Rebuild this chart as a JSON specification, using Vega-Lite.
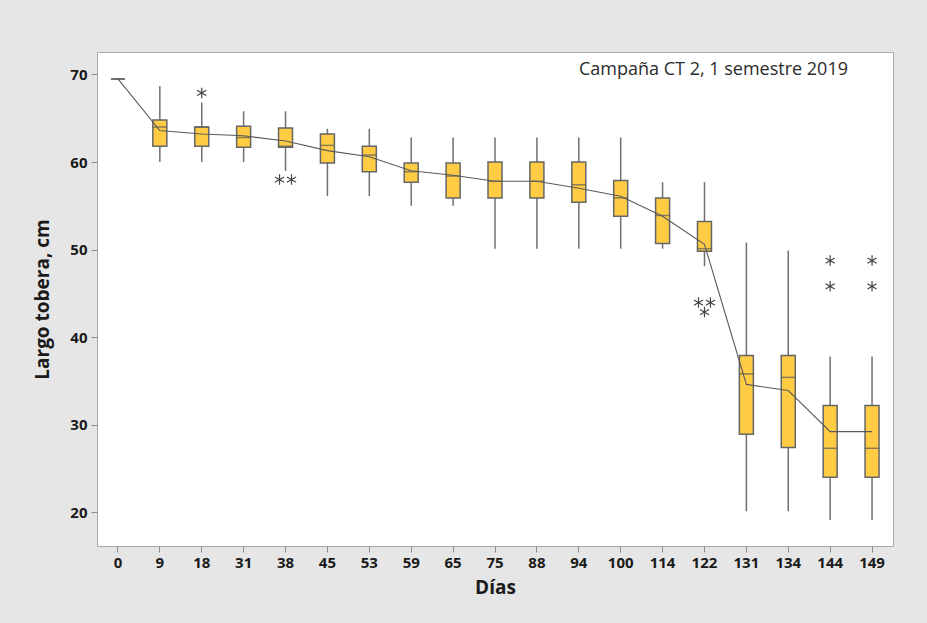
{
  "$schema": "https://vega.github.io/schema/vega-lite/v6.json",
  "width": 796,
  "height": 494,
  "autosize": {"type": "none"},
  "padding": {"left": 97, "top": 52, "right": 34, "bottom": 77},
  "background": "#e6e6e6",
  "title": {
    "text": "Campaña CT 2, 1 semestre 2019",
    "orient": "top",
    "anchor": "end",
    "frame": "group",
    "offset": 0,
    "baseline": "alphabetic",
    "dy": 41,
    "dx": -45,
    "font": "Open Sans",
    "fontSize": 18,
    "fontWeight": "normal",
    "color": "#2b2b2b"
  },
  "config": {
    "view": {"fill": "white", "stroke": "#a9a9a9", "strokeWidth": 1},
    "axis": {
      "labelFont": "Open Sans",
      "labelFontSize": 15,
      "labelFontWeight": "bold",
      "labelColor": "#1a1a1a",
      "titleFont": "Open Sans",
      "titleFontSize": 19,
      "titleFontWeight": "bold",
      "titleColor": "#1a1a1a",
      "tickColor": "#8a8a8a",
      "tickSize": 6,
      "domain": false,
      "grid": false
    }
  },
  "datasets": {
    "stats": [
      {"dia": 0, "lo": 69.5, "q1": 69.5, "med": 69.5, "q3": 69.5, "hi": 69.5, "media": 69.5},
      {"dia": 9, "lo": 60.0, "q1": 61.8, "med": 64.0, "q3": 64.8, "hi": 68.7, "media": 63.6},
      {"dia": 18, "lo": 60.0, "q1": 61.8, "med": 64.0, "q3": 64.0, "hi": 66.8, "media": 63.2},
      {"dia": 31, "lo": 60.0, "q1": 61.7, "med": 62.8, "q3": 64.1, "hi": 65.8, "media": 63.0},
      {"dia": 38, "lo": 59.0, "q1": 61.7, "med": 61.8, "q3": 63.9, "hi": 65.8, "media": 62.4},
      {"dia": 45, "lo": 56.1, "q1": 59.9, "med": 61.9, "q3": 63.2, "hi": 63.8, "media": 61.3},
      {"dia": 53, "lo": 56.1, "q1": 58.9, "med": 60.8, "q3": 61.8, "hi": 63.8, "media": 60.6},
      {"dia": 59, "lo": 55.0, "q1": 57.7, "med": 58.9, "q3": 59.9, "hi": 62.8, "media": 59.0},
      {"dia": 65, "lo": 55.0, "q1": 55.9, "med": 58.4, "q3": 59.9, "hi": 62.8, "media": 58.5},
      {"dia": 75, "lo": 50.1, "q1": 55.9, "med": 57.8, "q3": 60.0, "hi": 62.8, "media": 57.8},
      {"dia": 88, "lo": 50.1, "q1": 55.9, "med": 57.8, "q3": 60.0, "hi": 62.8, "media": 57.8},
      {"dia": 94, "lo": 50.1, "q1": 55.4, "med": 57.4, "q3": 60.0, "hi": 62.8, "media": 57.0},
      {"dia": 100, "lo": 50.1, "q1": 53.8, "med": 55.9, "q3": 57.9, "hi": 62.8, "media": 56.1},
      {"dia": 114, "lo": 50.1, "q1": 50.7, "med": 53.9, "q3": 55.9, "hi": 57.7, "media": 53.8},
      {"dia": 122, "lo": 48.1, "q1": 49.8, "med": 50.1, "q3": 53.2, "hi": 57.7, "media": 50.6},
      {"dia": 131, "lo": 20.1, "q1": 28.9, "med": 35.8, "q3": 37.9, "hi": 50.8, "media": 34.6},
      {"dia": 134, "lo": 20.1, "q1": 27.4, "med": 35.4, "q3": 37.9, "hi": 49.9, "media": 33.9},
      {"dia": 144, "lo": 19.1, "q1": 24.0, "med": 27.3, "q3": 32.2, "hi": 37.8, "media": 29.2},
      {"dia": 149, "lo": 19.1, "q1": 24.0, "med": 27.3, "q3": 32.2, "hi": 37.8, "media": 29.2}
    ],
    "atipicos": [
      {"dia": 18, "valor": 67.9, "pos": "c"},
      {"dia": 38, "valor": 58.0, "pos": "l"},
      {"dia": 38, "valor": 58.0, "pos": "r"},
      {"dia": 122, "valor": 43.95, "pos": "l"},
      {"dia": 122, "valor": 43.95, "pos": "r"},
      {"dia": 122, "valor": 42.86, "pos": "c"},
      {"dia": 144, "valor": 48.75, "pos": "c"},
      {"dia": 144, "valor": 45.8, "pos": "c"},
      {"dia": 149, "valor": 48.75, "pos": "c"},
      {"dia": 149, "valor": 45.8, "pos": "c"}
    ]
  },
  "encoding": {
    "x": {
      "field": "dia",
      "type": "ordinal",
      "title": "Días",
      "scale": {"paddingInner": 0, "paddingOuter": 0, "align": 0.5},
      "axis": {"labelAngle": 0, "labelPadding": 3, "titlePadding": 8}
    }
  },
  "layer": [
    {
      "data": {"name": "stats"},
      "mark": {"type": "rule", "color": "#707070", "strokeWidth": 1.5},
      "encoding": {
        "y": {
          "field": "lo",
          "type": "quantitative",
          "title": "Largo tobera, cm",
          "scale": {"domain": [16.14, 72.57], "nice": false, "zero": false},
          "axis": {"values": [20, 30, 40, 50, 60, 70], "labelPadding": 4, "titlePadding": 17}
        },
        "y2": {"field": "hi"}
      }
    },
    {
      "data": {"name": "stats"},
      "mark": {"type": "bar", "width": 14, "fill": "#ffcc44", "stroke": "#666666", "strokeWidth": 1.5},
      "encoding": {
        "y": {"field": "q1", "type": "quantitative"},
        "y2": {"field": "q3"}
      }
    },
    {
      "data": {"name": "stats"},
      "mark": {"type": "tick", "size": 14, "thickness": 1.5, "color": "#5a5a5a"},
      "encoding": {
        "y": {"field": "med", "type": "quantitative"}
      }
    },
    {
      "data": {"name": "stats"},
      "mark": {"type": "line", "color": "#5a5a5a", "strokeWidth": 1.1},
      "encoding": {
        "y": {"field": "media", "type": "quantitative"}
      }
    },
    {
      "data": {"name": "atipicos"},
      "mark": {
        "type": "point",
        "shape": "M0,-1L0,1M-0.87,-0.5L0.87,0.5M-0.87,0.5L0.87,-0.5",
        "filled": false,
        "size": 110,
        "stroke": "#454545",
        "strokeWidth": 1.2,
        "opacity": 1
      },
      "encoding": {
        "y": {"field": "valor", "type": "quantitative"},
        "xOffset": {
          "field": "pos",
          "type": "nominal",
          "scale": {"type": "point", "domain": ["x1", "x2", "l", "c", "r", "x3", "x4"], "padding": 0.5}
        }
      }
    }
  ]
}
